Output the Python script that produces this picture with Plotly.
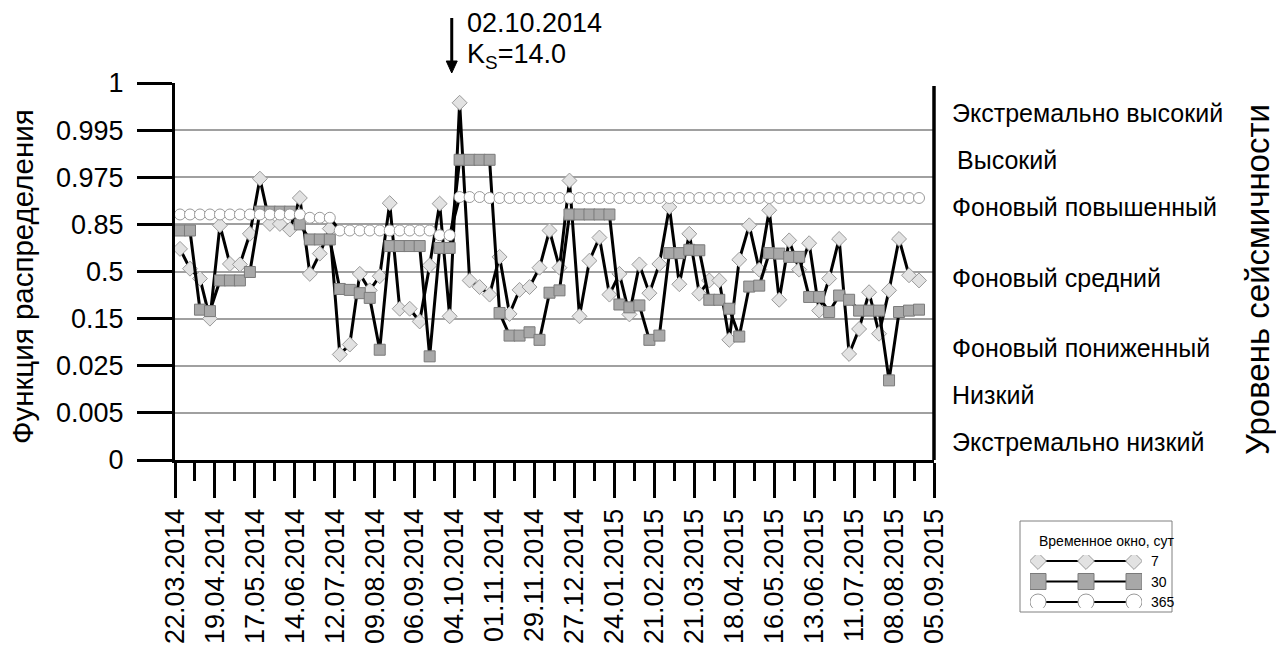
import plotly.graph_objects as go
import numpy as np

W, H = 1276, 648
FONT = "Liberation Sans, Arial, sans-serif"

# ---------------- data ----------------
# x-axis tick labels (every 4 weeks starting 22.03.2014)
TICK_LABELS = ["22.03.2014", "19.04.2014", "17.05.2014", "14.06.2014", "12.07.2014",
               "09.08.2014", "06.09.2014", "04.10.2014", "01.11.2014", "29.11.2014",
               "27.12.2014", "24.01.2015", "21.02.2015", "21.03.2015", "18.04.2015",
               "16.05.2015", "13.06.2015", "11.07.2015", "08.08.2015", "05.09.2015"]
WEEKS_PER_LABEL = 4

# y-axis: distribution-function levels (equally spaced on the chart)
Y_TICK_LABELS = ["0", "0.005", "0.025", "0.15", "0.5", "0.85", "0.975", "0.995", "1"]

# seismicity level names and the level span (in tick units) they occupy
LEVEL_NAMES = ["Экстремально высокий", "Высокий", "Фоновый повышенный", "Фоновый средний",
               "Фоновый пониженный", "Низкий", "Экстремально низкий"]
LEVEL_SPANS = [(7, 8), (6, 7), (5, 6), (3, 5), (2, 3), (1, 2), (0, 1)]

# weekly values, position on the distribution-function scale (tick units 0..8)
WIN_7 = [4.48, 4.06, 3.85, 3.00, 4.98, 4.16, 4.15, 4.80, 5.97, 5.01,
         5.01, 4.89, 5.56, 3.95, 4.38, 4.91, 2.24, 2.45, 3.95, 3.60,
         3.90, 5.45, 3.21, 3.21, 2.94, 4.13, 5.44, 3.05, 7.58, 3.81,
         3.67, 3.51, 4.31, 3.10, 3.61, 3.67, 4.08, 4.87, 4.08, 5.93,
         3.05, 4.23, 4.72, 3.51, 3.95, 3.09, 4.15, 3.54, 4.16, 5.37,
         3.73, 4.80, 3.53, 3.81, 3.81, 2.55, 4.25, 4.98, 4.04, 5.30,
         3.40, 4.66, 4.04, 4.60, 3.17, 3.85, 4.69, 2.25, 2.78, 3.56,
         2.68, 3.60, 4.69, 3.92, 3.81]
WIN_30 = [4.87, 4.87, 3.19, 3.16, 3.81, 3.81, 3.81, 3.99, 5.27, 5.27,
          5.27, 5.27, 5.00, 4.68, 4.68, 4.68, 3.63, 3.61, 3.54, 3.44,
          2.34, 4.54, 4.54, 4.54, 4.54, 2.20, 4.50, 4.50, 6.37, 6.37,
          6.37, 6.37, 3.12, 2.64, 2.64, 2.71, 2.55, 3.55, 3.60, 5.21,
          5.21, 5.21, 5.21, 5.21, 3.30, 3.24, 3.28, 2.55, 2.64, 4.39,
          4.39, 4.46, 4.45, 3.40, 3.40, 3.21, 2.62, 3.68, 3.70, 4.39,
          4.38, 4.31, 4.31, 3.46, 3.46, 3.14, 3.49, 3.40, 3.17, 3.17,
          3.17, 1.69, 3.14, 3.17, 3.19]
WIN_365 = [5.21] * 13 + [5.14] * 3 + [4.87] * 10 + [4.77] * 2 + [5.58] * 3 + [5.56] * 44

EVENT_WEEK = 27.71          # 02.10.2014 expressed in weeks since 22.03.2014
EVENT_LABEL = "02.10.2014"
EVENT_KS = "K<sub>S</sub>=14.0"

LEGEND_TITLE = "Временное окно, сут"
LEGEND_NAMES = ["7", "30", "365"]
LEGEND_SAMPLE_X = [0, 1, 2]

# ---------------- styles ----------------
STYLES = [
    dict(symbol="diamond", size=11.5, color="#e2e2e2", line=dict(color="#9a9a9a", width=1)),
    dict(symbol="square", size=11, color="#a8a8a8", line=dict(color="#7a7a7a", width=1)),
    dict(symbol="circle", size=11, color="#ffffff", line=dict(color="#9a9a9a", width=1)),
]
LEG_STYLES = [
    dict(symbol="diamond", size=13, color="#e2e2e2", line=dict(color="#9a9a9a", width=1)),
    dict(symbol="square", size=16, color="#a8a8a8", line=dict(color="#7a7a7a", width=1)),
    dict(symbol="circle", size=16, color="#ffffff", line=dict(color="#9a9a9a", width=1)),
]


def px(x):
    return x / W


def py(y):
    return 1 - y / H


X0, X1, Y0, Y1 = 175, 934, 460, 83   # plot area in pixels

fig = go.Figure()
series = [WIN_7, WIN_30, WIN_365]
for vals, st in zip(series, STYLES):
    xs = np.arange(len(vals)) + 0.5
    fig.add_trace(go.Scatter(x=xs, y=vals, mode="lines+markers",
                             line=dict(color="black", width=3),
                             marker=st, showlegend=False, hoverinfo="skip"))

# legend sample traces on their own small axes
for row, st in zip([2, 1, 0], LEG_STYLES):
    fig.add_trace(go.Scatter(x=LEGEND_SAMPLE_X, y=[row] * len(LEGEND_SAMPLE_X),
                             mode="lines+markers", xaxis="x2", yaxis="y2",
                             line=dict(color="black", width=2),
                             marker=st, showlegend=False, hoverinfo="skip"))

n_axis = WEEKS_PER_LABEL * (len(TICK_LABELS) - 1)
major = [WEEKS_PER_LABEL * k for k in range(len(TICK_LABELS))]
minor = [m + WEEKS_PER_LABEL / 2 for m in major[:-1]]

fig.update_layout(
    width=W, height=H,
    margin=dict(l=0, r=0, t=0, b=0),
    paper_bgcolor="white", plot_bgcolor="white",
    font=dict(family=FONT, color="black", size=26),
    showlegend=False,
    xaxis=dict(domain=[px(X0), px(X1)], range=[0, n_axis], automargin=False,
               tickmode="array", tickvals=major, ticktext=TICK_LABELS, tickangle=-90,
               ticks="outside", ticklen=35, tickwidth=3, tickcolor="black",
               ticklabelstandoff=0,
               minor=dict(tickmode="array", tickvals=minor, ticks="outside", ticklen=18,
                          tickwidth=3, tickcolor="black", showgrid=False),
               showline=True, linecolor="black", linewidth=3, showgrid=False, zeroline=False,
               tickfont=dict(size=27, family=FONT)),
    yaxis=dict(domain=[py(Y0), py(Y1)], range=[0, 8], automargin=False,
               tickmode="array", tickvals=list(range(len(Y_TICK_LABELS))), ticktext=Y_TICK_LABELS,
               ticks="outside", ticklen=35, tickwidth=3, tickcolor="black",
               ticklabelstandoff=8,
               showline=True, linecolor="black", linewidth=3,
               showgrid=True, gridcolor="#a0a0a0", gridwidth=1.5, zeroline=False,
               tickfont=dict(size=27, family=FONT)),
    xaxis2=dict(domain=[px(1030), px(1142)], range=[-8 / 48, 2 + 8 / 48], anchor="y2",
                visible=False, fixedrange=True),
    yaxis2=dict(domain=[py(608), py(555)], range=[-6 / 20.5, 2 + 6 / 20.5], anchor="x2",
                visible=False, fixedrange=True),
)

shapes = [
    # right axis line
    dict(type="line", xref="paper", yref="paper", x0=px(X1), x1=px(X1), y0=py(Y0), y1=py(86),
         line=dict(color="black", width=3.5)),
    # legend box
    dict(type="rect", xref="paper", yref="paper", x0=px(1020), x1=px(1172), y0=py(612), y1=py(521),
         line=dict(color="#808080", width=1), fillcolor="rgba(0,0,0,0)"),
    # event arrow: shaft
    dict(type="line", xref="x", yref="paper", x0=EVENT_WEEK, x1=EVENT_WEEK, y0=py(18), y1=py(64),
         line=dict(color="black", width=3)),
    # event arrow: head (pixel-sized, anchored at the event date)
    dict(type="path", xref="x", yref="paper", xsizemode="pixel", ysizemode="pixel",
         xanchor=EVENT_WEEK, yanchor=py(73), path="M 0 0 L -5.5 12 L 5.5 12 Z",
         fillcolor="black", line=dict(color="black", width=1)),
]
fig.update_layout(shapes=shapes)

ann = []
# axis titles
ann.append(dict(text="Функция распределения", xref="paper", yref="paper", x=px(22), y=py(277),
                xanchor="center", yanchor="middle",
                textangle=-90, showarrow=False, font=dict(size=29.5, family=FONT)))
ann.append(dict(text="Уровень сейсмичности", xref="paper", yref="paper", x=px(1258), y=py(280),
                xanchor="center", yanchor="middle",
                textangle=-90, showarrow=False, font=dict(size=33, family=FONT)))
# level names on the right
for name, (lo, hi) in zip(LEVEL_NAMES, LEVEL_SPANS):
    ann.append(dict(text=name, xref="paper", yref="y", x=px(950), y=(lo + hi) / 2,
                    xanchor="left", yanchor="middle", yshift=-6,
                    xshift=5 if name == "Высокий" else 0,
                    showarrow=False, font=dict(size=25, family=FONT)))
# event text
ann.append(dict(text=EVENT_LABEL, xref="x", yref="paper", x=EVENT_WEEK, y=py(23), xshift=13,
                xanchor="left", yanchor="middle", showarrow=False, font=dict(size=27, family=FONT)))
ann.append(dict(text=EVENT_KS, xref="x", yref="paper", x=EVENT_WEEK, y=py(56), xshift=13,
                xanchor="left", yanchor="middle", showarrow=False, font=dict(size=27, family=FONT)))
# legend texts
ann.append(dict(text=LEGEND_TITLE, xref="paper", yref="paper", x=px(1037), y=py(541),
                xanchor="left", yanchor="middle", showarrow=False, font=dict(size=14, family=FONT)))
for row, name in zip([2, 1, 0], LEGEND_NAMES):
    ann.append(dict(text=name, xref="paper", yref="y2", x=px(1149), y=row,
                    xanchor="left", yanchor="middle", showarrow=False, font=dict(size=14, family=FONT)))
fig.update_layout(annotations=ann)

fig.write_html("out.html")
